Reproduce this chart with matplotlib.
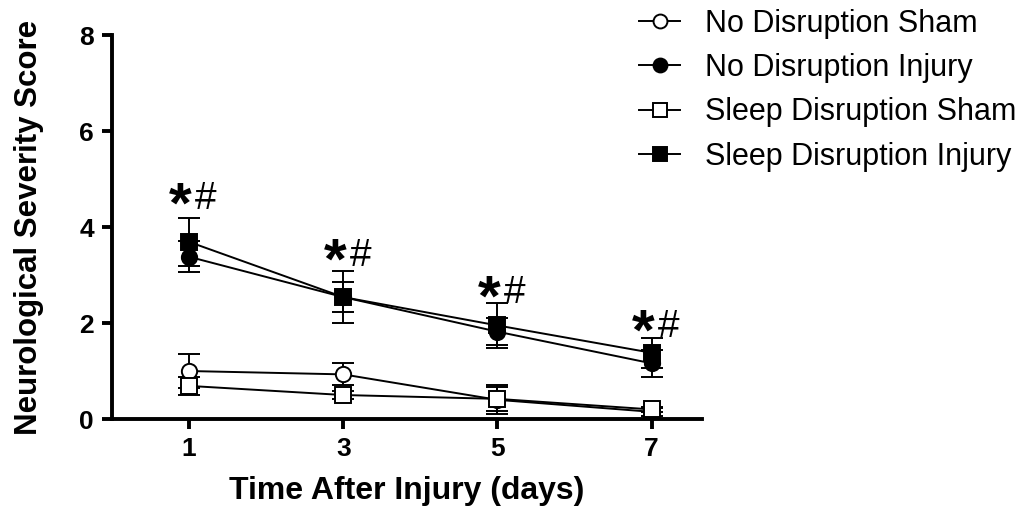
import matplotlib.pyplot as plt
from matplotlib.lines import Line2D

plt.rcParams['font.family'] = ['Liberation Sans', 'DejaVu Sans']

# data
days = [1, 3, 5, 7]
labels = ['No Disruption Sham', 'No Disruption Injury',
          'Sleep Disruption Sham', 'Sleep Disruption Injury']

nd_sham = [1.0, 0.93, 0.4, 0.15]
nd_sham_err = [0.35, 0.23, 0.3, 0.08]
nd_inj = [3.38, 2.54, 1.82, 1.16]
nd_inj_err = [0.32, 0.31, 0.28, 0.28]
sd_sham = [0.69, 0.5, 0.42, 0.2]
sd_sham_err = [0.19, 0.08, 0.25, 0.06]
sd_inj = [3.69, 2.54, 1.95, 1.38]
sd_inj_err = [0.5, 0.54, 0.46, 0.31]

# significance marks (*#) above each day
sig_y = [4.7, 3.52, 2.75, 2.04]

fig = plt.figure(figsize=(10.31, 5.12), dpi=100)
ax = fig.add_axes([0.1086, 0.1816, 0.572, 0.75])

series = [
    (nd_sham, nd_sham_err, 'o', 'white'),
    (nd_inj, nd_inj_err, 'o', 'black'),
    (sd_sham, sd_sham_err, 's', 'white'),
    (sd_inj, sd_inj_err, 's', 'black'),
]
for (vals, err, m, fc), lab in zip(series, labels):
    ax.errorbar(days, vals, yerr=err, color='black', marker=m, markersize=11,
                markerfacecolor=fc, markeredgecolor='black', markeredgewidth=1.4,
                linewidth=1.4, elinewidth=1.4, capsize=8, capthick=1.4, label=lab)

for d, y in zip(days, sig_y):
    ax.text(d - 0.11, y - 0.6, '*', fontsize=42, fontweight='bold', ha='center', va='baseline')
    ax.text(d + 0.22, y - 0.33, '#', fontsize=28, ha='center', va='baseline')

ax.set_xlim(0, 7.65)
ax.set_ylim(0, 8)
ax.set_xticks(days)
ax.set_yticks([0, 2, 4, 6, 8])
ax.tick_params(labelsize=19, width=2.8, length=7, direction='out', pad=6)
for t in ax.get_xticklabels() + ax.get_yticklabels():
    t.set_fontweight('bold')
ax.spines['top'].set_visible(False)
ax.spines['right'].set_visible(False)
ax.spines['left'].set_linewidth(2.8)
ax.spines['bottom'].set_linewidth(2.8)
ax.set_xlabel('Time After Injury (days)', fontsize=23, fontweight='bold', labelpad=11)
ax.set_ylabel('Neurological Severity Score', fontsize=22.5, fontweight='bold', labelpad=25)

handles = [Line2D([0], [0], color='black', marker=m, markersize=10, markerfacecolor=fc,
                  markeredgewidth=1.4, linewidth=1.4)
           for (_, _, m, fc) in series]
fig.legend(handles, labels, loc='upper left', bbox_to_anchor=(0.62, 0.983),
           frameon=False, fontsize=22, handlelength=1.35, labelspacing=0.47,
           handletextpad=0.8, borderpad=0, borderaxespad=0)

fig.savefig('out.png', dpi=100)
